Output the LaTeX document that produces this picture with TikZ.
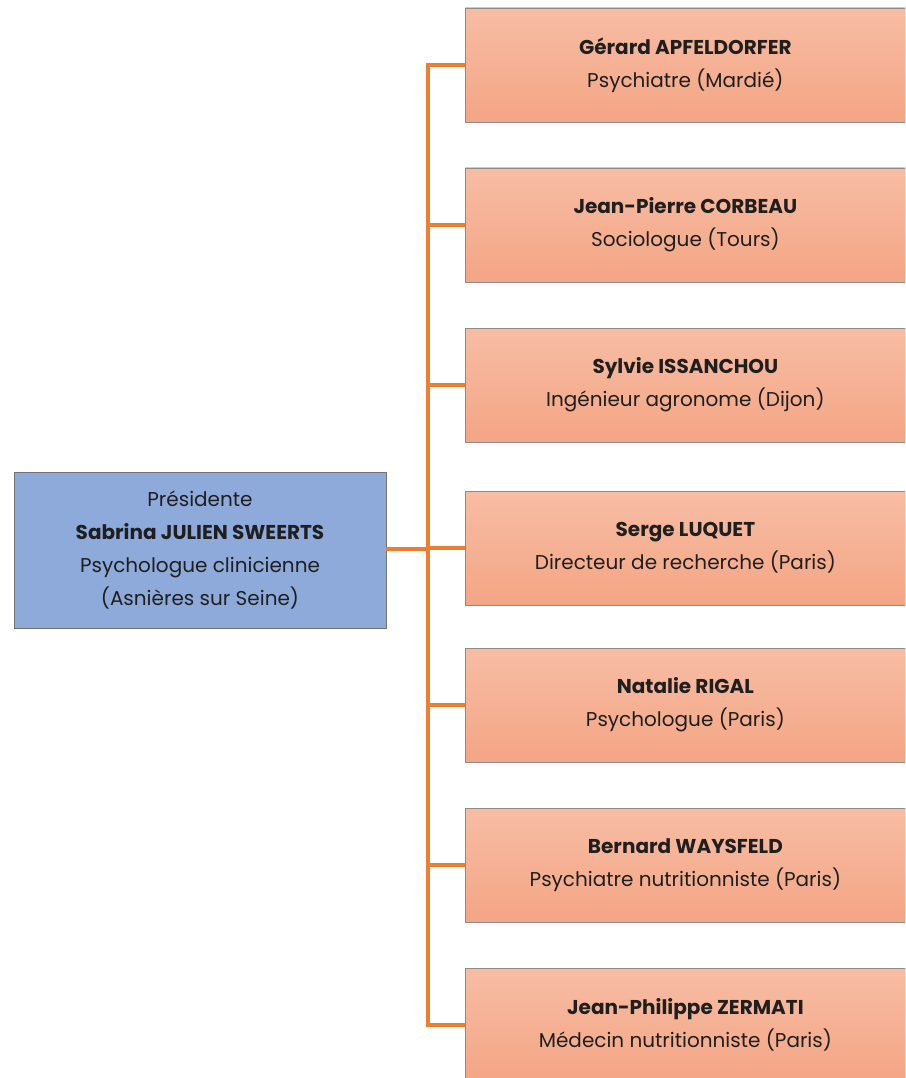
\documentclass[tikz,border=0pt]{standalone}
\usepackage{fontspec}
\setmainfont{Poppins}
\begin{document}
\begin{tikzpicture}[x=1pt,y=-1pt,
  boxtext/.style={font=\fontsize{20}{33}\selectfont, align=center, text=black!88},
  member/.style={boxtext, draw=black!45, line width=0.8pt, top color=salmonTop, bottom color=salmonBot, minimum width=440pt, minimum height=114pt, anchor=west, inner sep=0pt},
  pres/.style={boxtext, draw=black!55, line width=0.8pt, fill=presBlue, minimum width=372pt, minimum height=156pt, inner sep=0pt},
  link/.style={draw=linkOrange, line width=3.2pt}
]
\definecolor{salmonTop}{HTML}{F7BDA4}
\definecolor{salmonBot}{HTML}{F4A584}
\definecolor{presBlue}{HTML}{8EAADB}
\definecolor{linkOrange}{HTML}{ED7D31}
\useasboundingbox (0,0) rectangle (905,1078);
\clip (0,0) rectangle (905,1078);
\node[pres] (p) at (200,550) {Présidente\\\textbf{Sabrina JULIEN SWEERTS}\\Psychologue clinicienne\\(Asnières sur Seine)};
\node[member] (m1) at (465,65) {\textbf{Gérard APFELDORFER}\\Psychiatre (Mardié)};
\node[member] (m2) at (465,225) {\textbf{Jean-Pierre CORBEAU}\\Sociologue (Tours)};
\node[member] (m3) at (465,385) {\textbf{Sylvie ISSANCHOU}\\Ingénieur agronome (Dijon)};
\node[member] (m4) at (465,548) {\textbf{Serge LUQUET}\\Directeur de recherche (Paris)};
\node[member] (m5) at (465,705) {\textbf{Natalie RIGAL}\\Psychologue (Paris)};
\node[member] (m6) at (465,865) {\textbf{Bernard WAYSFELD}\\Psychiatre nutritionniste (Paris)};
\node[member] (m7) at (465,1025) {\textbf{Jean-Philippe ZERMATI}\\Médecin nutritionniste (Paris)};
\coordinate (tj) at (428,549);
\coordinate (ttop) at (428,65);
\coordinate (tbot) at (428,1025);
\draw[link] (p.east |- tj) -- (tj);
\draw[link] (m1.west) -- (ttop) -- (tbot) -- (m7.west);
\foreach \i in {2,...,6} \draw[link] (ttop |- m\i.west) -- (m\i.west);
\end{tikzpicture}
\end{document}
